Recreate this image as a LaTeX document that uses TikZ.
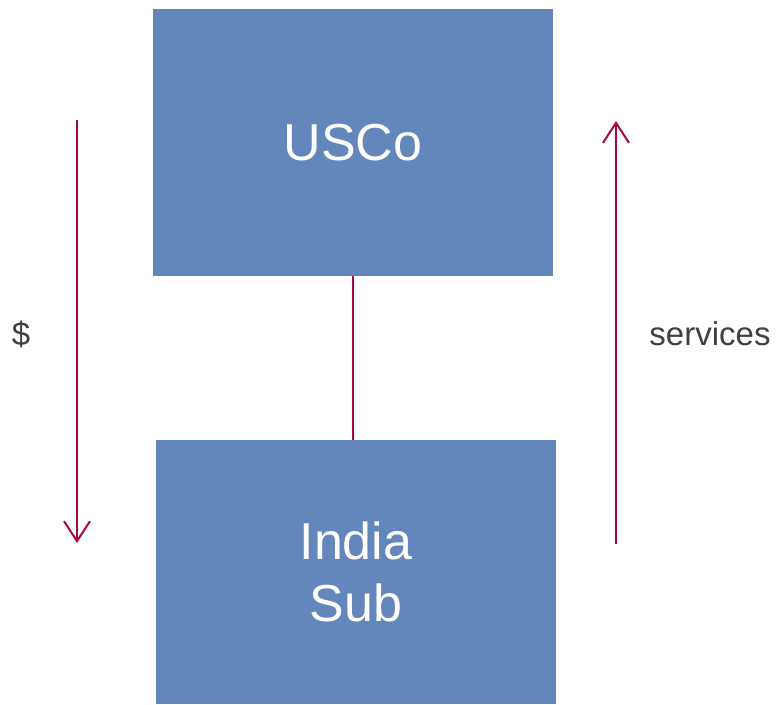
\documentclass[tikz,border=0pt]{standalone}
\usepackage{fontspec}
\setmainfont{Liberation Sans}
\usetikzlibrary{arrows.meta}
\definecolor{boxblue}{HTML}{6387BB}
\definecolor{arrred}{HTML}{A8093F}
\definecolor{txtgray}{HTML}{404040}
\begin{document}
\begin{tikzpicture}[x=1pt,y=-1pt,
  bluebox/.style={fill=boxblue,draw=none,inner sep=0pt,text=white,font=\fontsize{52}{62}\selectfont,align=center},
  flow/.style={draw=arrred,line width=2pt,-{Straight Barb[length=20pt,width=26pt,line width=2pt]}},
  lbl/.style={text=txtgray,font=\fontsize{33}{40}\selectfont,inner sep=0pt}]
\useasboundingbox (0,0) rectangle (776,704);
\node[bluebox,minimum width=400pt,minimum height=267pt] (usco) at (353,142.5) {USCo};
\node[bluebox,minimum width=400pt,minimum height=264pt] (india) at (356,572) {India\\Sub};
\draw[arrred,line width=2pt] (usco.south) -- (usco.south |- india.north);
\coordinate (ltop) at (77,120);
\coordinate (lbot) at (77,543);
\coordinate (rbot) at (616,544);
\coordinate (rtop) at (616,121);
\draw[flow] (ltop) -- (lbot);
\draw[flow] (rbot) -- (rtop);
\node[lbl] (dollar) at (21,334) {\$};
\node[lbl] (serv) at (710,334) {services};
\end{tikzpicture}
\end{document}
